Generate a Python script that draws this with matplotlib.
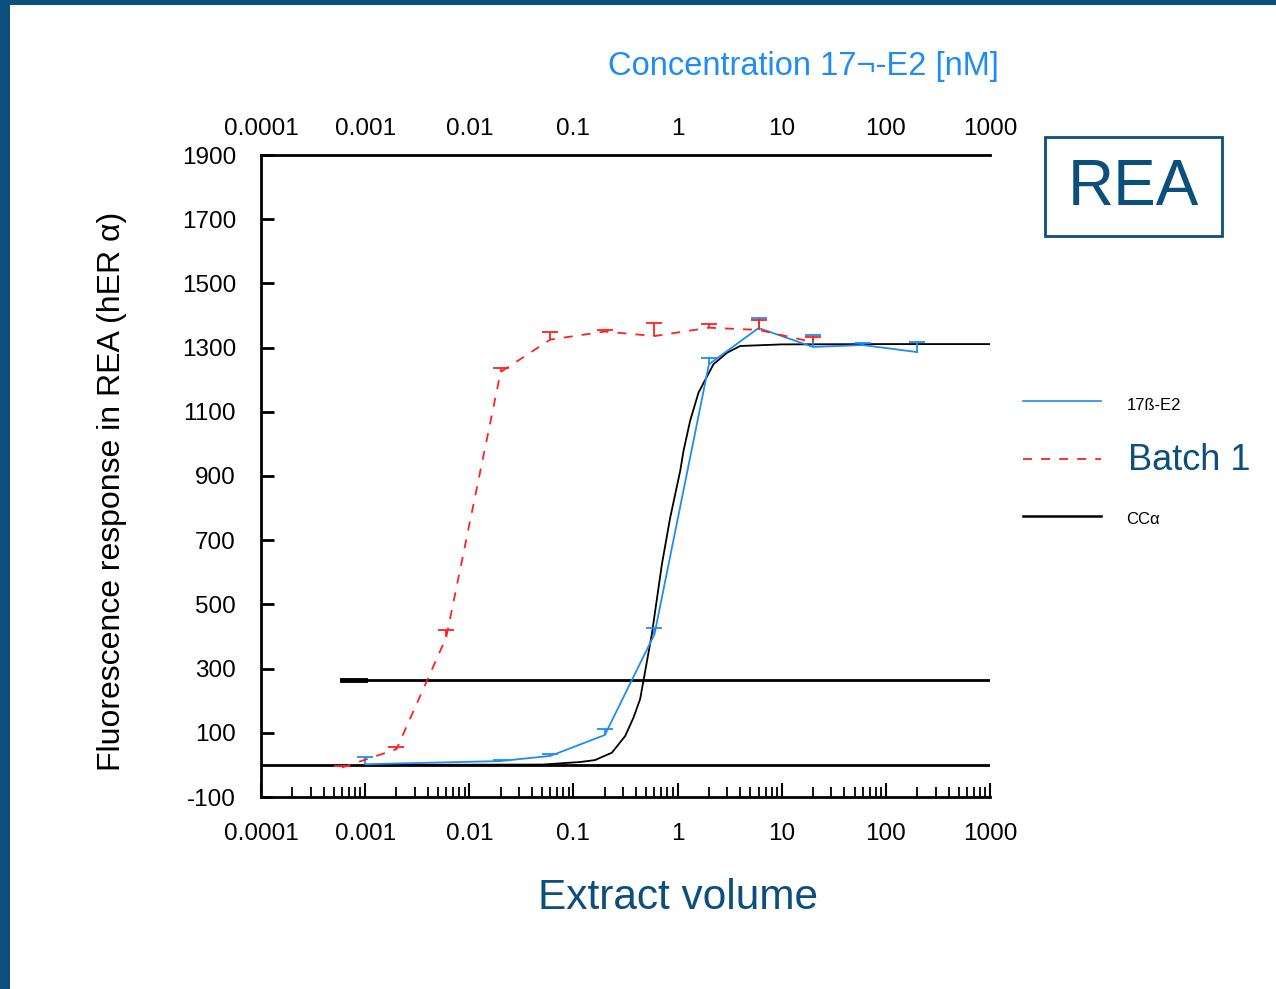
import matplotlib
matplotlib.use('Agg')
import matplotlib.pyplot as plt
from matplotlib.patches import Rectangle

plt.rcParams['font.family'] = ['Liberation Sans', 'DejaVu Sans']
plt.rcParams['axes.unicode_minus'] = False

DARK = '#0B4F7D'
BLUE = '#1E8CF5'
RED = '#FF2020'

# Batch 1 (red dashed), upper error only
batch_x = [0.0006, 0.002, 0.006, 0.02, 0.06, 0.2, 0.6, 2, 6, 20]
batch_y = [-8, 49, 397, 1224, 1325, 1350, 1336, 1362, 1355, 1317]
batch_err = [4, 7, 22, 12, 25, 6, 40, 12, 30, 16]

# 17ß-E2 (blue)
e2_x = [0.001, 0.02, 0.06, 0.2, 0.6, 2, 6, 20, 60, 200]
e2_y = [2, 12, 28, 93, 407, 1248, 1361, 1302, 1308, 1286]
e2_err = [24, 3, 6, 19, 20, 19, 31, 37, 6, 30]

# CC-alpha fitted curve (black)
cc_x = [0.001, 0.05, 0.116, 0.161, 0.234, 0.314, 0.377, 0.437, 0.470, 0.566,
        0.707, 0.849, 1.06, 1.14, 1.32, 1.59, 2.21, 2.98, 3.99, 10, 100, 1000]
cc_y = [0, 1, 9, 15, 38, 90, 147, 205, 262, 407,
        625, 770, 916, 978, 1072, 1160, 1248, 1284, 1305, 1310, 1311, 1311]

threshold = 264
threshold_start = 0.0006
threshold_thick_end = 0.001

xticks = [0.0001, 0.001, 0.01, 0.1, 1, 10, 100, 1000]
xtick_labels = ['0.0001', '0.001', '0.01', '0.1', '1', '10', '100', '1000']
yticks = [1900, 1700, 1500, 1300, 1100, 900, 700, 500, 300, 100, -100]


def up_errors(ax, x, y, err, color):
    tops = [v + e for v, e in zip(y, err)]
    ax.vlines(x, y, tops, color=color, lw=1.3, zorder=3)
    ax.plot(x, tops, ls='none', marker='_', ms=12, mew=1.3, color=color, zorder=3)


fig = plt.figure(figsize=(12.76, 9.89), dpi=100)
ax = fig.add_axes([261 / 1276, 1 - 797 / 989, (990 - 261) / 1276, (797 - 155) / 989])

ax.set_xscale('log')
ax.set_xlim(0.0001, 1000)
ax.set_ylim(-100, 1900)

# reference lines
ax.plot([0.0001, 1000], [0, 0], color='black', lw=2, zorder=1)
ax.plot([threshold_start, 1000], [threshold, threshold], color='black', lw=2, zorder=1)
ax.plot([threshold_start, threshold_thick_end], [threshold, threshold], color='black', lw=3.5, zorder=1)

ax.plot(cc_x, cc_y, color='black', lw=1.3, zorder=2)
ax.plot(e2_x, e2_y, color=BLUE, lw=1.3, zorder=3)
up_errors(ax, e2_x, e2_y, e2_err, BLUE)
ax.plot(batch_x, batch_y, color=RED, lw=1.3, ls=(0, (5, 5)), zorder=4)
up_errors(ax, batch_x, batch_y, batch_err, RED)

ax.spines['right'].set_visible(False)
for s in ['left', 'bottom', 'top']:
    ax.spines[s].set_linewidth(2)

ax.set_xticks(xticks)
ax.set_xticklabels(xtick_labels)
ax.set_yticks(yticks)
ax.tick_params(axis='x', which='major', direction='in', length=10, width=1.5,
               labelsize=17.5, pad=19, top=False)
ax.tick_params(axis='x', which='minor', direction='in', length=7, width=1.3, top=False)
ax.tick_params(axis='y', direction='in', length=9, width=2, labelsize=17.5, pad=18)

top = ax.secondary_xaxis('top')
top.set_xticks(xticks)
top.set_xticklabels(xtick_labels)
top.tick_params(axis='x', which='both', length=0, labelsize=17.5, pad=11)
top.spines['top'].set_visible(False)

# overlay for decorations in pixel coordinates
ov = fig.add_axes([0, 0, 1, 1], facecolor='none')
ov.set_xlim(0, 1276)
ov.set_ylim(989, 0)
ov.axis('off')

ov.add_patch(Rectangle((0, 0), 1276, 5, color=DARK, lw=0))
ov.add_patch(Rectangle((0, 0), 10, 989, color=DARK, lw=0))

ov.text(112, 491, 'Fluorescence response in REA (hER \u03b1)', fontsize=23,
        rotation=90, ha='center', va='center')
ov.text(678, 898, 'Extract volume', fontsize=30.5, color=DARK, ha='center', va='center')
ov.text(803, 67, 'Concentration 17\u00ac-E2 [nM]', fontsize=23.5, color=BLUE,
        ha='center', va='center')

ov.add_patch(Rectangle((1045, 137), 177, 99, fill=False, ec=DARK, lw=2))
ov.text(1133, 188, 'REA', fontsize=46, color=DARK, ha='center', va='center')

ov.plot([1023, 1101], [401, 401], color=BLUE, lw=1.2)
ov.plot([1023, 1101], [459, 459], color=RED, lw=1.3, ls=(0, (5, 5)))
ov.plot([1023, 1101], [516, 516], color='black', lw=1.8)
ov.text(1127, 405, '17\u00df-E2', fontsize=12, color='black', va='center')
ov.text(1128, 460, 'Batch 1', fontsize=26, color=DARK, va='center')
ov.text(1126, 519, 'CC\u03b1', fontsize=12, color='black', va='center')

fig.savefig('out.png', dpi=100)
